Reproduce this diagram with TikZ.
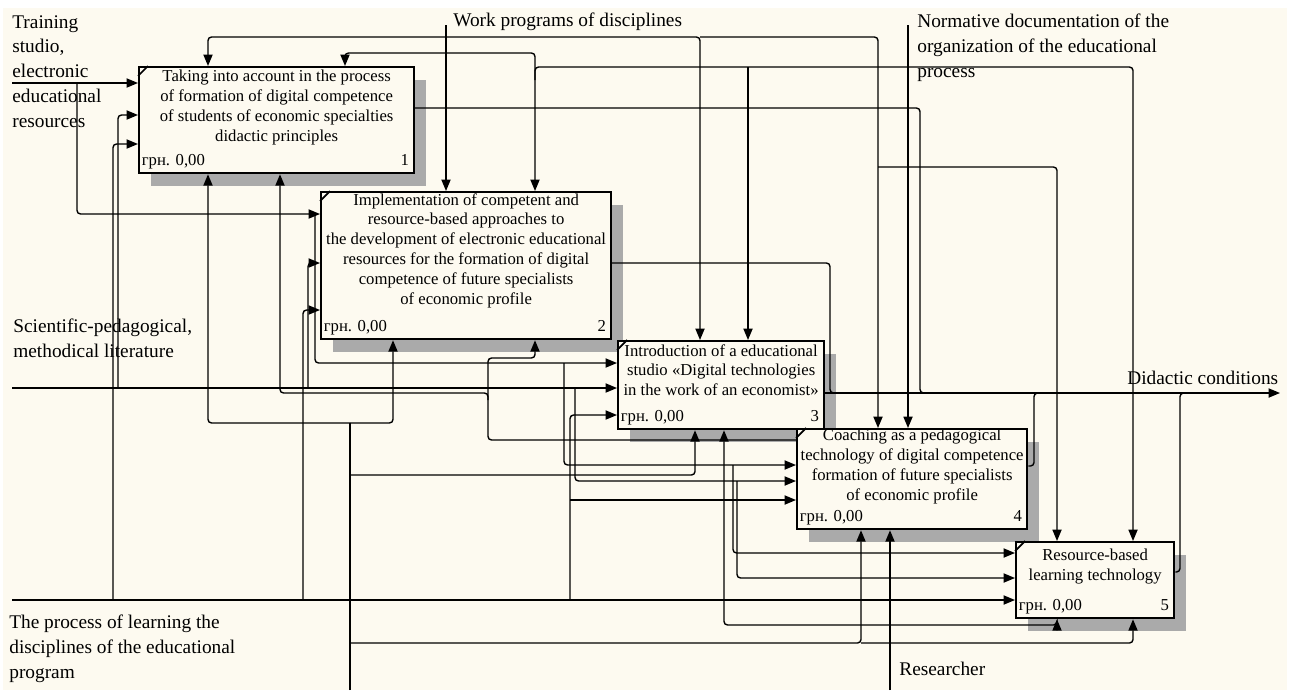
\documentclass[tikz,border=0pt]{standalone}
\usepackage{fontspec}
\setmainfont{Liberation Serif}
\usetikzlibrary{arrows.meta,positioning,shadows}
\definecolor{paper}{RGB}{253,250,240}
\definecolor{shadegray}{RGB}{170,170,170}

\begin{document}
\begin{tikzpicture}[x=0.02cm, y=-0.02cm,
    func/.style={draw, line width=1.3pt, fill=paper, inner sep=0pt, anchor=north west,
      drop shadow={shadow xshift=0.24cm, shadow yshift=-0.25cm, fill=shadegray, opacity=1}},
    ftext/.style={font=\fontsize{9.5}{11.3}\selectfont, align=center, inner sep=0pt},
    cost/.style={font=\fontsize{9.5}{11.3}\selectfont, inner sep=0pt, anchor=base west},
    num/.style={font=\fontsize{9.5}{11.3}\selectfont, inner sep=0pt, anchor=base east},
    lbl/.style={font=\fontsize{11}{14.1}\selectfont, align=left, inner sep=0pt, anchor=north west},
    wire/.style={line width=0.8pt, rounded corners=2pt},
    flow/.style={wire, -{Triangle[length=6.5pt,width=5.2pt]}}]
  \useasboundingbox (0,0) rectangle (1290,690);
  \fill[paper] (3,8) rectangle (1287,690);

  % Function boxes
  \node[func, minimum width=5.5cm, minimum height=2.12cm] (b1) at (138,66) {};
  \node[func, minimum width=5.8cm, minimum height=2.94cm] (b2) at (320,191) {};
  \node[func, minimum width=4.12cm, minimum height=1.76cm] (b3) at (617,340) {};
  \node[func, minimum width=4.6cm, minimum height=2.0cm] (b4) at (796,428) {};
  \node[func, minimum width=3.16cm, minimum height=1.52cm] (b5) at (1015,541) {};
  \foreach \i in {1,...,5} {
    \draw[line width=1pt] ([yshift=-0.2cm]b\i.north west) -- ([xshift=0.2cm]b\i.north west);
    \node[cost] (c\i) at ([xshift=0.07cm,yshift=0.17cm]b\i.south west) {грн. 0,00};
    \node[num] (n\i) at ([xshift=-0.12cm,yshift=0.17cm]b\i.south east) {\i};
  }
  \node[ftext, below=0.08cm of b1.north] (t1) {Taking into account in the process\\of formation of digital competence\\of students of economic specialties\\didactic principles};
  \node[ftext, below=0.04cm of b2.north] (t2) {Implementation of competent and\\resource-based approaches to\\the development of electronic educational\\resources for the formation of digital\\competence of future specialists\\of economic profile};
  \node[ftext, below=0.08cm of b3.north] (t3) {Introduction of a educational\\studio «Digital technologies\\in the work of an economist»};
  \node[ftext, below=0.02cm of b4.north] (t4) {Coaching as a pedagogical\\technology of digital competence\\formation of future specialists\\of economic profile};
  \node[ftext, below=0.16cm of b5.north] (t5) {Resource-based\\learning technology};

  % Free ends
  \coordinate (inT) at (12,83);
  \coordinate (inS) at (12,388);
  \coordinate (inP) at (12,600);
  \coordinate (ctlW) at (446,25);
  \coordinate (ctlN) at (908,25);
  \coordinate (mecA) at (350,690);
  \coordinate (mecR) at (890,690);
  \coordinate (outD) at (1280,393);

  % Inputs: training studio
  \draw[flow] (inT) -- (inT -| b1.west);
  \draw[flow] (77,83) -- (77,214) -- (b2.west |- 0,214);
  \draw[flow] (315,214) -- (315,363) -- (b3.west |- 0,363);
  \draw[flow] (564,363) -- (564,465) -- (b4.west |- 0,465);
  \draw[flow] (733,465) -- (733,553) -- (b5.west |- 0,553);
  % Inputs: literature
  \draw[flow] (inS) -- (inS -| b3.west);
  \draw[flow] (118,388) -- (118,115) -- (b1.west |- 0,115);
  \draw[flow] (308,388) -- (308,263) -- (b2.west |- 0,263);
  \draw[flow] (575,388) -- (575,481) -- (b4.west |- 0,481);
  \draw[flow] (737,481) -- (737,578) -- (b5.west |- 0,578);
  % Inputs: learning process
  \draw[flow] (inP) -- (inP -| b5.west);
  \draw[flow] (113,600) -- (113,144) -- (b1.west |- 0,144);
  \draw[flow] (303,600) -- (303,310) -- (b2.west |- 0,310);
  \draw[flow] (570,600) -- (570,415) -- (b3.west |- 0,415);
  \draw[flow] (570,500) -- (b4.west |- 0,500);

  % Controls
  \draw[flow] (ctlW) -- (ctlW |- b2.north);
  \draw[flow] (446,37) -- (208,37) -- (208,0 |- b1.north);
  \draw[flow] (446,37) -- (700,37) -- (700,0 |- b3.north);
  \draw[flow] (700,37) -- (878,37) -- (878,0 |- b4.north);
  \draw[flow] (878,167) -- (1057,167) -- (1057,0 |- b5.north);
  \draw[flow] (ctlN) -- (ctlN |- b4.north);
  \draw[flow] (908,67) -- (535,67) -- (535,0 |- b2.north);
  \draw[flow] (535,80) -- (535,53) -- (345,53) -- (345,0 |- b1.north);
  \draw[flow] (748,67) -- (748,0 |- b3.north);
  \draw[flow] (908,67) -- (1133,67) -- (1133,0 |- b5.north);

  % Mechanisms
  \draw[wire] (mecA) -- (350,423);
  \draw[flow] (350,423) -- (208,423) -- (208,0 |- b1.south);
  \draw[flow] (350,423) -- (393,423) -- (393,0 |- b2.south);
  \draw[flow] (350,475) -- (695,475) -- (695,0 |- b3.south);
  \draw[flow] (350,643) -- (861,643) -- (861,0 |- b4.south);
  \draw[flow] (861,643) -- (1133,643) -- (1133,0 |- b5.south);
  \draw[flow] (mecR) -- (mecR |- b4.south);
  \draw[flow] (890,625) -- (724,625) -- (724,0 |- b3.south);
  \draw[flow] (890,625) -- (1057,625) -- (1057,0 |- b5.south);
  \draw[flow] (b4.west |- 0,440) -- (488,440) -- (488,393) -- (280,393) -- (280,0 |- b1.south);
  \draw[flow] (488,400) -- (488,358) -- (535,358) -- (535,0 |- b2.south);

  % Outputs
  \draw[flow] (b3.east |- 0,393) -- (outD);
  \draw[wire] (b1.east |- 0,108) -- (920,108) -- (920,393) -- (935,393);
  \draw[wire] (b2.east |- 0,263) -- (830,263) -- (830,393) -- (845,393);
  \draw[wire] (b4.east |- 0,466) -- (1034,466) -- (1034,393) -- (1048,393);
  \draw[wire] (b5.east |- 0,572) -- (1180,572) -- (1180,393) -- (1195,393);

  % Labels
  \node[lbl] (lT) at (12,15) {Training\\studio,\\electronic\\educational\\resources};
  \node[lbl] (lW) at (453,13) {Work programs of disciplines};
  \node[lbl] (lN) at (917,14) {Normative documentation of the\\organization of the educational\\process};
  \node[lbl] (lS) at (13,319) {Scientific-pedagogical,\\methodical literature};
  \node[lbl] (lP) at (9,615) {The process of learning the\\disciplines of the educational\\program};
  \node[lbl] (lR) at (899,662) {Researcher};
  \node[lbl] (lD) at (1127,371) {Didactic conditions};
\end{tikzpicture}
\end{document}
